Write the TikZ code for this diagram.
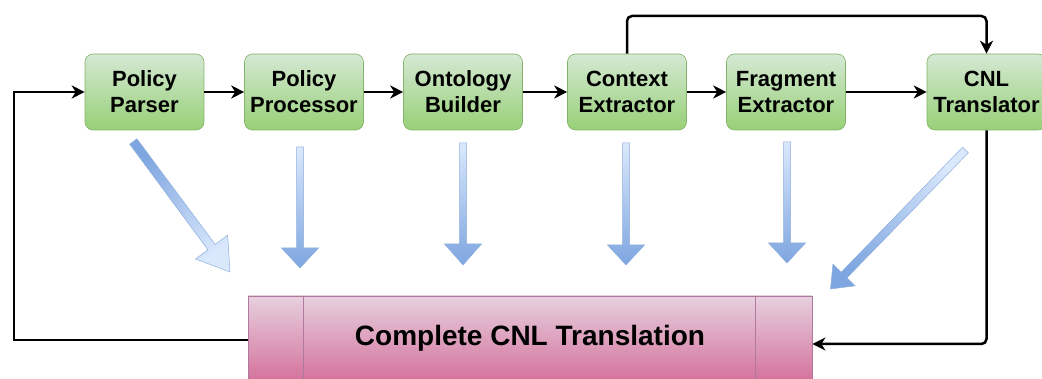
\documentclass[tikz,border=0pt]{standalone}
\usepackage{fontspec}
\setmainfont{Liberation Sans}
\usetikzlibrary{arrows.meta,calc}

\definecolor{greentop}{HTML}{D5E8D4}
\definecolor{greenbot}{HTML}{97D077}
\definecolor{greenline}{HTML}{82B366}
\definecolor{pinktop}{HTML}{E6D0DE}
\definecolor{pinkbot}{HTML}{D5739D}
\definecolor{pinkline}{HTML}{B07A9E}
\definecolor{bluelight}{HTML}{DAE8FC}
\definecolor{bluedark}{HTML}{7EA6E0}
\definecolor{blueline}{HTML}{8FAEDB}

% Block arrow: #1 tail, #2 tip, #3 shaft half width, #4 head half width,
% #5 head length, #6 shading options
\newcommand{\blockarrow}[6]{%
  \coordinate (hb) at ($(#2)!#5!(#1)$);
  \shade[draw=blueline, line width=0.5pt, line join=miter, #6]
    ($(#1)!#3!90:(#2)$) -- ($(hb)!#3!90:(#2)$) -- ($(hb)!#4!90:(#2)$)
    -- (#2) -- ($(hb)!#4!-90:(#2)$) -- ($(hb)!#3!-90:(#2)$)
    -- ($(#1)!#3!-90:(#2)$) -- cycle;
}

\begin{document}
\begin{tikzpicture}[x=1pt, y=-1pt,
  stage/.style={draw=greenline, line width=0.6pt, rounded corners=8pt,
    top color=greentop, bottom color=greenbot,
    minimum width=119pt, minimum height=76pt, inner sep=0pt,
    align=center, font=\fontsize{22}{26}\selectfont\bfseries},
  result/.style={draw=pinkline, line width=0.8pt,
    top color=pinktop, bottom color=pinkbot,
    minimum width=564pt, minimum height=84pt, inner sep=0pt,
    font=\fontsize{28}{32}\selectfont\bfseries},
  divider/.style={draw=pinkline, line width=0.8pt},
  conn/.style={draw=black, line width=2.5pt,
    -{Stealth[length=13pt, width=13pt, inset=4pt]}}
]
\clip (0,0) rectangle (1042,379);
\useasboundingbox (0,0) rectangle (1042,379);

% pipeline stages
\node[stage] (pp)  at (144.5,92) {Policy\\Parser};
\node[stage] (pr)  at (304,92)   {Policy\\Processor};
\node[stage] (ob)  at (463,92)   {Ontology\\Builder};
\node[stage] (ce)  at (627,92)   {Context\\Extractor};
\node[stage] (fe)  at (786,92)   {Fragment\\Extractor};
\node[stage] (cnl) at (986.5,92) {CNL\\Translator};

% collected output
\node[result] (out) at (530,338) {Complete CNL Translation};
\draw[divider] ([xshift=56pt]out.north west) -- ([xshift=56pt]out.south west);
\draw[divider] ([xshift=-57pt]out.north east) -- ([xshift=-57pt]out.south east);

% main chain
\draw[conn] (pp) -- (pr);
\draw[conn] (pr) -- (ob);
\draw[conn] (ob) -- (ce);
\draw[conn] (ce) -- (fe);
\draw[conn] (fe) -- (cnl);

% bypass over the fragment extractor
\coordinate (topy) at (0,16);
\draw[conn, rounded corners=5pt] (ce.north) -- (ce.north |- topy) -| (cnl.north);

% translator feeds the result
\draw[conn, rounded corners=5pt] (cnl.south) |- ([yshift=-6pt]out.east);

% result loops back to the parser
\coordinate (lx) at (14,0);
\draw[conn] ([yshift=-2pt]out.west) -| (lx |- pp.west) -- (pp.west);

% contributions of each stage
\coordinate (a1s) at (133.3,141.5); \coordinate (a1t) at (230,272);
\coordinate (a2s) at (300,147);     \coordinate (a2t) at (300,268);
\coordinate (a3s) at (463,143);     \coordinate (a3t) at (463,265);
\coordinate (a4s) at (626,143);     \coordinate (a4t) at (626,265);
\coordinate (a5s) at (787,142);     \coordinate (a5t) at (787,263);
\coordinate (a6s) at (965.5,150);   \coordinate (a6t) at (830.5,289);

\blockarrow{a1s}{a1t}{4.5pt}{20pt}{31pt}{top color=bluedark, bottom color=bluelight, shading angle=37}
\blockarrow{a2s}{a2t}{3.5pt}{18.5pt}{20pt}{top color=bluelight, bottom color=bluedark}
\blockarrow{a3s}{a3t}{3.5pt}{18.5pt}{21pt}{top color=bluelight, bottom color=bluedark}
\blockarrow{a4s}{a4t}{3.5pt}{18.5pt}{20pt}{top color=bluelight, bottom color=bluedark}
\blockarrow{a5s}{a5t}{3.5pt}{18.5pt}{20pt}{top color=bluelight, bottom color=bluedark}
\blockarrow{a6s}{a6t}{4pt}{15.5pt}{19.5pt}{top color=bluelight, bottom color=bluedark, shading angle=-44}
\end{tikzpicture}
\end{document}
